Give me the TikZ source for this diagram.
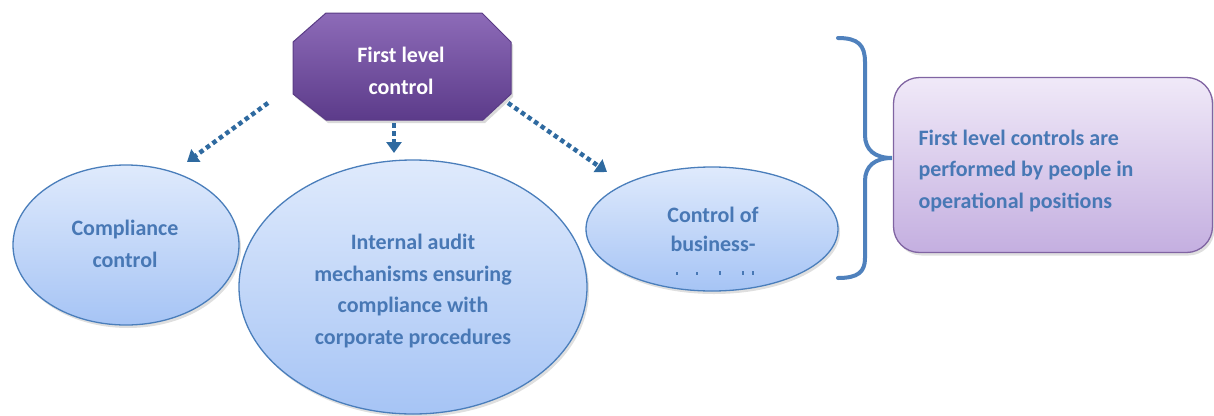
\documentclass[tikz,border=0pt]{standalone}
\usepackage{fontspec}
\setmainfont{Carlito}
\usetikzlibrary{shapes.misc,shapes.geometric,arrows.meta,shadows}
\definecolor{elltext}{HTML}{4878B5}
\definecolor{ellborder}{HTML}{4A7EBB}
\definecolor{elltop}{HTML}{DFEAFC}
\definecolor{ellbot}{HTML}{A6C4F5}
\definecolor{boxtop}{HTML}{F0E9F8}
\definecolor{boxbot}{HTML}{C4AFE0}
\definecolor{boxborder}{HTML}{8064A2}
\definecolor{octtop}{HTML}{8D6BB8}
\definecolor{octbot}{HTML}{5C3B8A}
\definecolor{octborder}{HTML}{5A3C85}
\definecolor{arrcol}{HTML}{2F6AA0}
\definecolor{bracecol}{HTML}{4F81BD}
\tikzset{
  txt/.style={font=\fontsize{22}{31.5}\selectfont\bfseries, align=center},
  ell/.style={ellipse, draw=ellborder, line width=1.3pt, top color=elltop, bottom color=ellbot, inner sep=0pt,
     drop shadow={shadow xshift=2pt, shadow yshift=-3pt, opacity=0.25}},
  dotarr/.style={draw=arrcol, line width=4.5pt, dash pattern=on 4.5pt off 3.5pt,
     -{Triangle[length=11pt,width=15pt]}},
  brace/.style={draw=bracecol, line width=4pt, line cap=round},
  octshape/.style={top color=octtop, bottom color=octbot, draw=octborder, line width=1pt,
     drop shadow={shadow xshift=2pt, shadow yshift=-3pt, opacity=0.3}},
}
\begin{document}
\begin{tikzpicture}[x=1pt,y=-1pt]
\useasboundingbox (0,0) rectangle (1214,415);
% ellipses
\node[ell, minimum width=226pt, minimum height=160pt] (e1) at (126,245) {};
\node[ell, minimum width=348pt, minimum height=254pt] (e2) at (413,287) {};
\node[ell, minimum width=252pt, minimum height=124pt] (e3) at (712,229) {};
\node[txt, text=elltext] (t1) at (125,244) {Compliance\\control};
\node[txt, text=elltext] (t2) at (413,291) {Internal audit\\mechanisms ensuring\\compliance with\\corporate procedures};
\node[txt, text=elltext, font=\fontsize{22}{29}\selectfont\bfseries] (t3) at (713,229) {Control of\\business-};
\foreach \x/\h in {677/3,697/3.5,720/4,743/4,753/4}{
  \fill[elltext] (\x-1.2,275-\h) rectangle (\x+1.2,275);
}
% octagon
\path[octshape] (326,13) -- (482,13) -- (511,42) -- (511,94) -- (483,120) -- (326,120)
  -- (293,94) -- (293,42) -- cycle;
\node[txt, text=white] (oct) at (401,71) {First level\\control};
% arrows
\coordinate (a1s) at (268,103);
\coordinate (a1e) at (187,162);
\coordinate (a2s) at (394,123);
\coordinate (a2e) at (394,153);
\coordinate (a3s) at (508,103);
\coordinate (a3e) at (607,172);
\draw[dotarr] (a1s) -- (a1e);
\draw[dotarr] (a2s) -- (a2e);
\draw[dotarr] (a3s) -- (a3e);
% brace
\draw[brace] (838,38) .. controls (858,38) and (865,45) .. (865,62) -- (865,135)
  .. controls (865,150) and (875,158) .. (892,158)
  .. controls (875,158) and (865,166) .. (865,181) -- (865,258)
  .. controls (865,272) and (858,278) .. (838,278);
% right box
\node[rounded corners=26pt, draw=boxborder, line width=1.3pt, top color=boxtop, bottom color=boxbot,
  minimum width=319pt, minimum height=175pt, inner sep=0pt,
  drop shadow={shadow xshift=2pt, shadow yshift=-3pt, opacity=0.25}] (box) at (1053,165) {};
\node[txt, text=elltext, align=left, anchor=west] (bt) at (915,171) {First level controls are\\performed by people in\\operational positions};
\end{tikzpicture}
\end{document}
